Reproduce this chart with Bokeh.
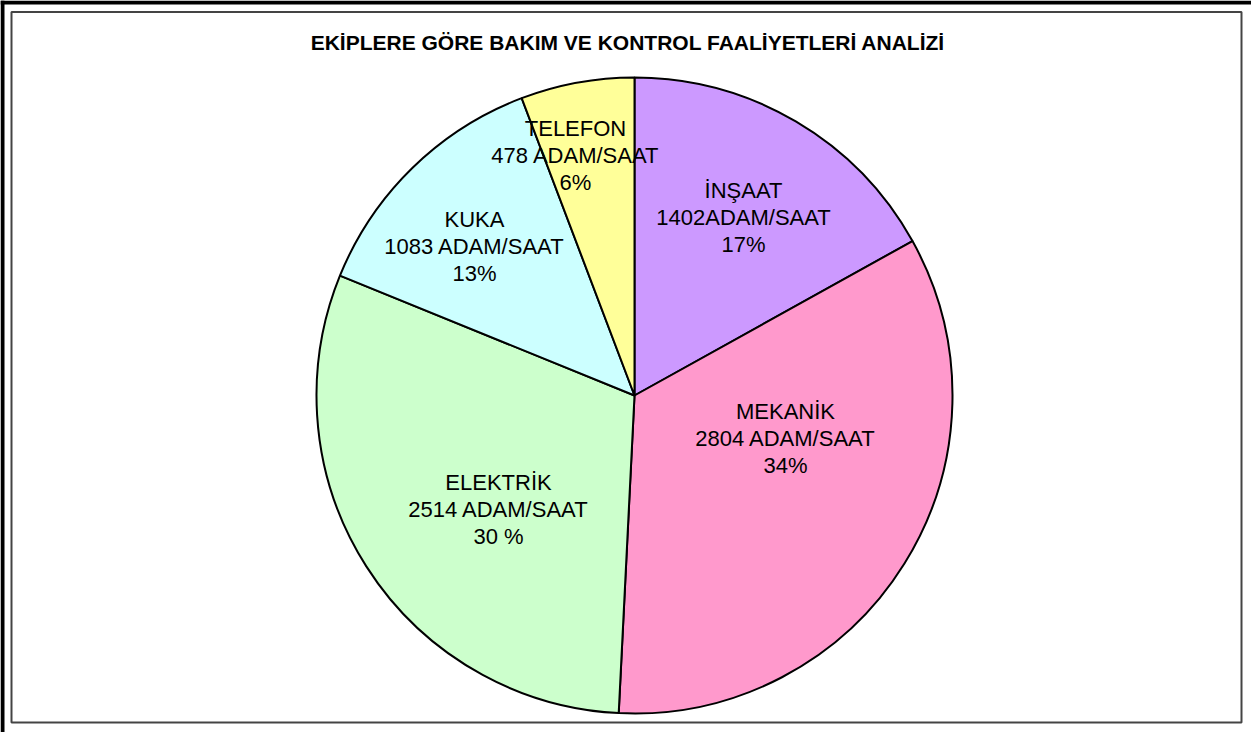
import math
from bokeh.plotting import figure
from bokeh.models import Range1d, ColumnDataSource
from bokeh.core.properties import value
from bokeh.embed import file_html
from bokeh.resources import INLINE

# ---- data ----
title_text = "EKİPLERE GÖRE BAKIM VE KONTROL FAALİYETLERİ ANALİZİ"
teams = ["İNŞAAT", "MEKANİK", "ELEKTRİK", "KUKA", "TELEFON"]
hours = [1402, 2804, 2514, 1083, 478]
hour_labels = ["1402ADAM/SAAT", "2804 ADAM/SAAT", "2514 ADAM/SAAT", "1083 ADAM/SAAT", "478 ADAM/SAAT"]
pct_labels = ["17%", "34%", "30 %", "13%", "6%"]
colors = ["#CC99FF", "#FF99CC", "#CCFFCC", "#CCFFFF", "#FFFF99"]
# label anchor (middle line) in page pixels
label_x = [751, 793, 506, 482, 583]
label_y = [225, 446, 517, 254, 163]

W, H = 1251, 732
PAGE_H = 740


def fy(y):
    return PAGE_H - y


p = figure(width=W, height=H, output_backend="svg", toolbar_location=None,
           x_range=Range1d(8, 8 + W), y_range=Range1d(0, H), min_border=0)
p.xaxis.visible = False
p.yaxis.visible = False
p.grid.visible = False
p.outline_line_color = None
p.background_fill_color = "white"
p.border_fill_color = "white"

# outer thick frame (top and left)
p.quad(left=[8], right=[12], bottom=[fy(740)], top=[fy(8)], fill_color="black", line_color=None)
p.quad(left=[8], right=[1259], bottom=[fy(12)], top=[fy(8)], fill_color="black", line_color=None)
# inner frame
p.quad(left=[19], right=[1249], bottom=[fy(730)], top=[fy(19.5)], fill_color=None,
       line_color="#444444", line_width=2)

# pie
cx, cy, R = 642, fy(403), 318
total = sum(hours)
starts, ends = [], []
acc = 0
for h in hours:
    starts.append(math.pi / 2 - 2 * math.pi * acc / total)
    acc += h
    ends.append(math.pi / 2 - 2 * math.pi * acc / total)
src = ColumnDataSource(dict(start=starts, end=ends, color=colors))
p.wedge(x=cx, y=cy, radius=R, start_angle="start", end_angle="end", direction="clock",
        fill_color="color", line_color="black", line_width=2, source=src)

font = value("Liberation Sans")
ys_mid = [fy(y) for y in label_y]
for dy, texts in ((27, teams), (0, hour_labels), (-27, pct_labels)):
    p.text(x=label_x, y=[y + dy for y in ys_mid], text=texts, text_font=font,
           text_font_size="22px", text_align="center", text_baseline="middle", text_color="black")

p.text(x=[635.5], y=[fy(50)], text=[title_text], text_font=font, text_font_style="bold",
       text_font_size="21px", text_align="center", text_baseline="middle", text_color="black")

open("out.html", "w").write(file_html(p, INLINE))
